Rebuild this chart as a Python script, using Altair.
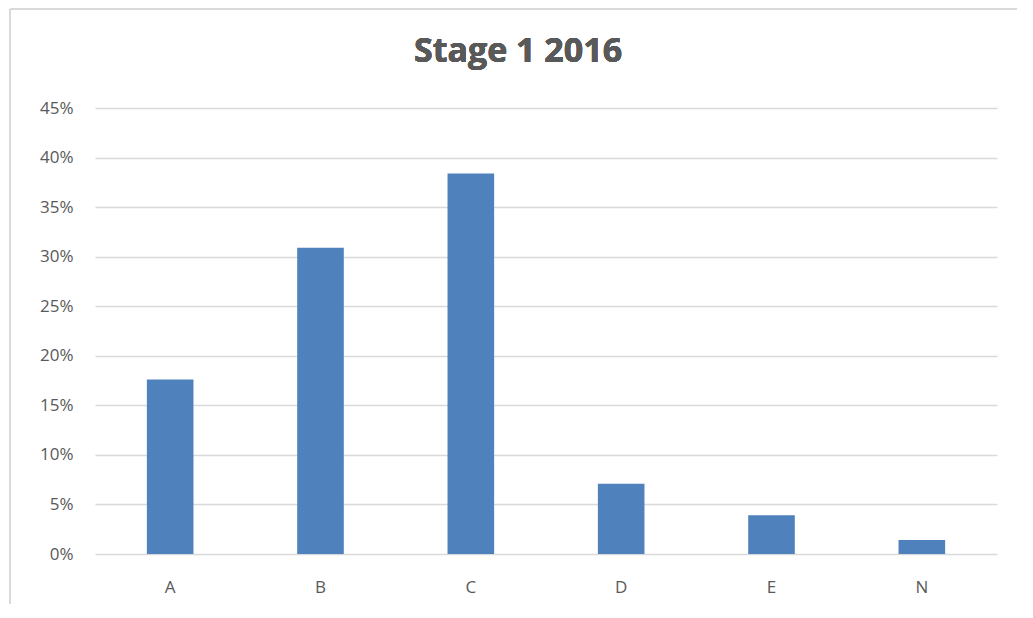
import altair as alt
import pandas as pd

categories = ["A", "B", "C", "D", "E", "N"]
values = [0.176, 0.309, 0.384, 0.071, 0.039, 0.014]
y_ticks = [0, 0.05, 0.10, 0.15, 0.20, 0.25, 0.30, 0.35, 0.40, 0.45]
title_text = "Stage 1 2016"

df = pd.DataFrame({"category": categories, "value": values})

bars = alt.Chart(df).mark_bar(color="#4F81BD").encode(
    x=alt.X("category:N", sort=categories, title=None,
            scale=alt.Scale(paddingInner=0.69, paddingOuter=0.345),
            axis=alt.Axis(labelAngle=0, ticks=False, domain=False, grid=False,
                          labelFont="Open Sans", labelFontSize=17, labelColor="#595959",
                          labelPadding=25)),
    y=alt.Y("value:Q", title=None,
            scale=alt.Scale(domain=[0, 0.45], nice=False),
            axis=alt.Axis(values=y_ticks, format=".0%", ticks=False, domain=False,
                          grid=True, gridColor="#D9D9D9", gridWidth=1.3,
                          labelFont="Open Sans", labelFontSize=17, labelColor="#595959",
                          labelPadding=22)),
)

title_mark = alt.Chart(df).mark_text(
    text=title_text, font="Open Sans", fontSize=34, fontWeight="bold",
    color="#595959", align="center", baseline="alphabetic"
).encode(x=alt.value(423), y=alt.value(-46))

frame_top = alt.Chart(df).mark_rule(color="#D9D9D9", strokeWidth=2).encode(
    x=alt.value(-85), x2=alt.value(930), y=alt.value(-99)
)
frame_left = alt.Chart(df).mark_rule(color="#D9D9D9", strokeWidth=1.5).encode(
    x=alt.value(-85), y=alt.value(-99), y2=alt.value(510)
)

chart = alt.layer(frame_top, frame_left, title_mark, bars).properties(
    width=902, height=446,
    autosize=alt.AutoSizeParams(type="none"),
    padding={"left": 87, "top": 100, "right": 20, "bottom": 50},
).configure_view(stroke=None)

chart.save("out.html", embed_options={"renderer": "svg", "actions": False})
